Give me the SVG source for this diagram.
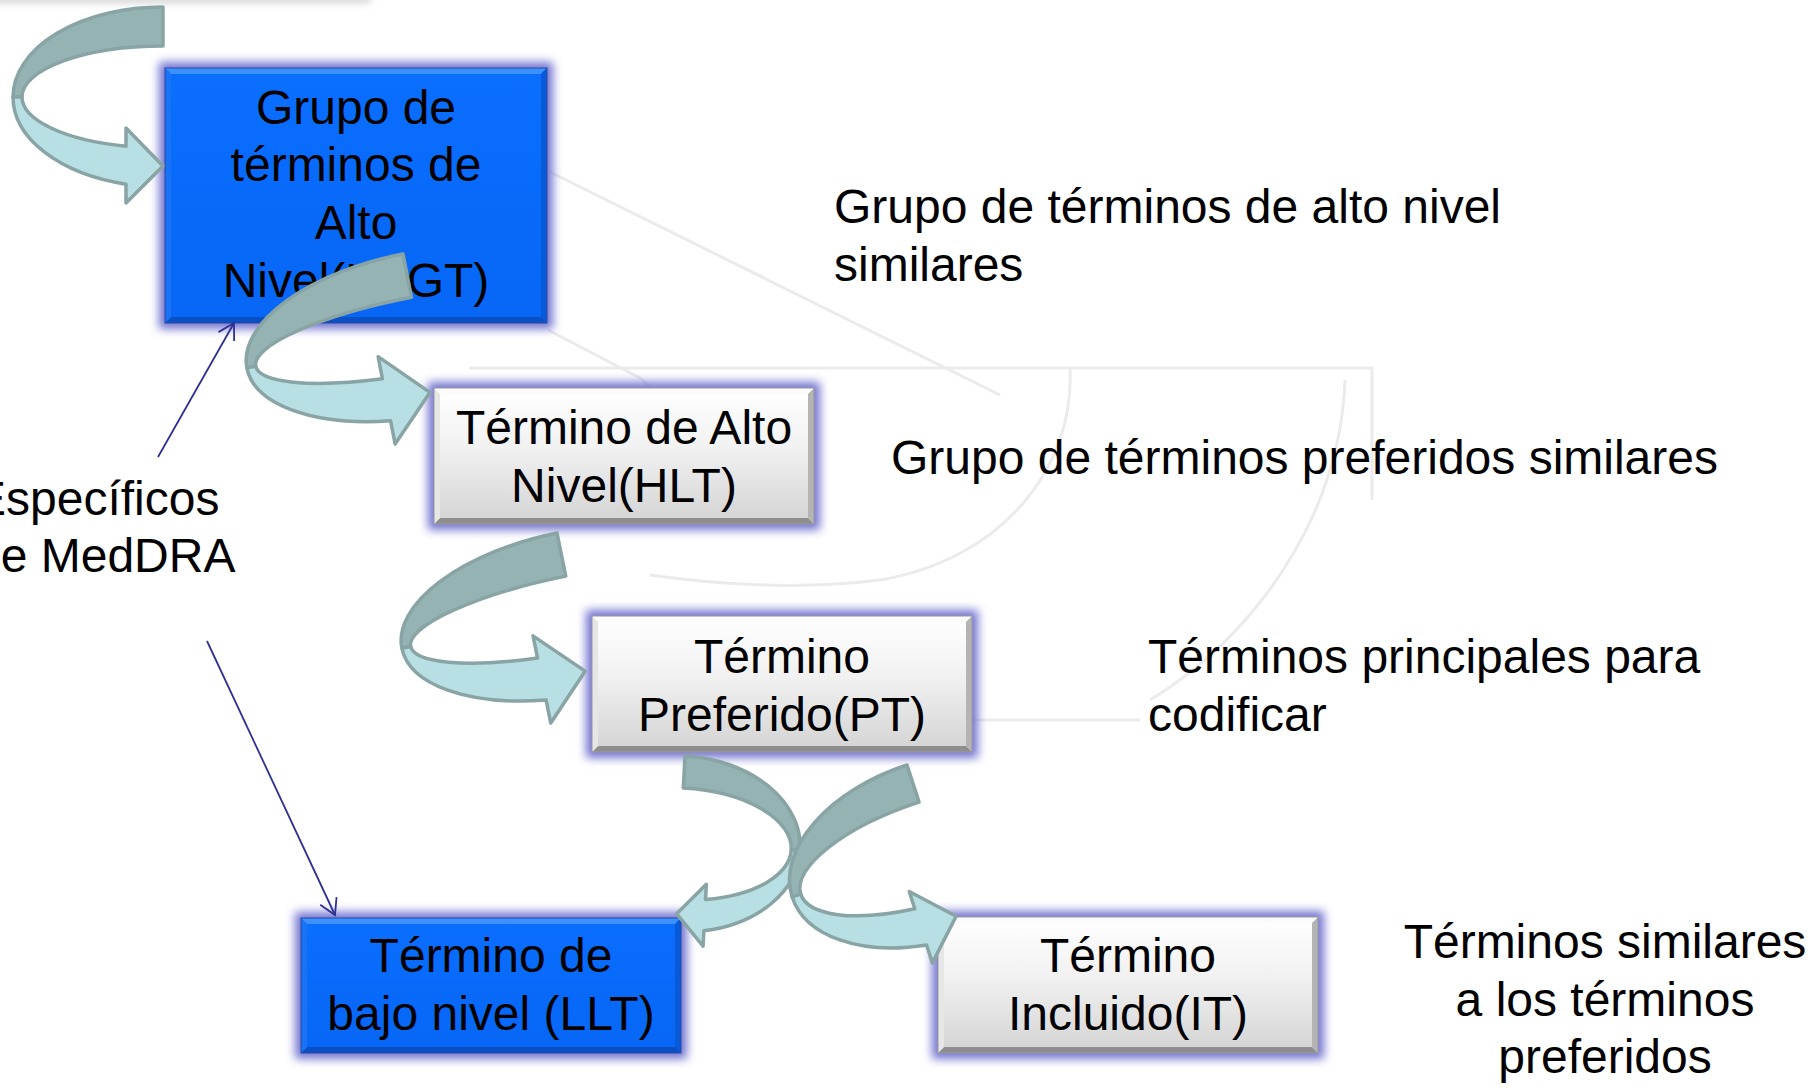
<svg xmlns="http://www.w3.org/2000/svg" xmlns:xlink="http://www.w3.org/1999/xlink" width="1816" height="1088" viewBox="0 0 1816 1088">
<style>
.t{font-family:"Liberation Sans",Arial,sans-serif;font-size:48px;fill:#000}
.m{text-anchor:middle}
.wm{fill:none;stroke:#ebebeb;stroke-width:3}
.dark{fill:#96b3b4;stroke:#89a4a5;stroke-width:3.5;stroke-linejoin:round}
.light{fill:#b8dfe3;stroke:#89a4a5;stroke-width:3.5;stroke-linejoin:round}
.conn{fill:none;stroke:#2e3192;stroke-width:1.8}
.glow{fill:#7474d2;filter:url(#blur)}
</style>
<defs>
<filter id="blur" x="-20%" y="-30%" width="140%" height="160%"><feGaussianBlur stdDeviation="5"/></filter>
<filter id="blur2" x="-20%" y="-200%" width="140%" height="500%"><feGaussianBlur stdDeviation="3"/></filter>
<linearGradient id="gGray" x1="0" y1="0" x2="0" y2="1"><stop offset="0" stop-color="#ffffff"/><stop offset="0.45" stop-color="#f1f1f1"/><stop offset="1" stop-color="#d3d3d3"/></linearGradient>
<linearGradient id="gBlue" x1="0" y1="0" x2="0" y2="1"><stop offset="0" stop-color="#0a6eff"/><stop offset="1" stop-color="#0766f5"/></linearGradient>
<marker id="open" viewBox="0 0 22 20" refX="20" refY="10" markerWidth="22" markerHeight="20" orient="auto" markerUnits="userSpaceOnUse">
<path d="M4.4,1 L20,10 L4.4,19" fill="none" stroke="#2e3192" stroke-width="1.8"/>
</marker>
<g id="boxGray">
<rect class="glow" x="-6" y="-6" width="392" height="148"/>
<rect x="0" y="0" width="380" height="136" fill="url(#gGray)"/>
<polygon points="0,0 380,0 374,6 6,6" fill="#fbfbfb"/>
<polygon points="0,136 380,136 374,130 6,130" fill="#8e8e8e"/>
<polygon points="380,0 380,136 374,130 374,6" fill="#b4b4b4"/>
<polygon points="0,0 0,136 6,130 6,6" fill="#e6e6e6"/>
<rect x="0" y="0" width="380" height="136" fill="none" stroke="#9a9a9a" stroke-width="1"/>
</g>
<g id="boxBlue">
<rect class="glow" x="-6" y="-6" width="392" height="147"/>
<rect x="0" y="0" width="380" height="135" fill="url(#gBlue)"/>
<polygon points="0,0 380,0 374,6 6,6" fill="#3d90ff"/>
<polygon points="0,135 380,135 374,129 6,129" fill="#0a4fc4"/>
<polygon points="380,0 380,135 374,129 374,6" fill="#075ad8"/>
<polygon points="0,0 0,135 6,129 6,6" fill="#1a73f5"/>
<rect x="0" y="0" width="380" height="135" fill="none" stroke="#2a4aa0" stroke-width="1"/>
</g>
<g id="arrowA">
<path class="dark" d="M0,-90 A150 90 0 0 0 -150,0 L-141,0 A141 51 0 0 1 0,-51 Z"/>
<path class="light" d="M-150,0 A150 90 0 0 0 -37,87.2 L-37,106 L0,69 L-37,31 L-37,49.2 A141 51 0 0 1 -141,0 Z"/>
</g>
<g id="arrowB">
<path class="dark" d="M0,-82 A175 82 0 0 0 -175,0 L-166,0 A166 38 0 0 1 0,-38 Z"/>
<path class="light" d="M-175,0 A175 82 0 0 0 -44,79.4 L-44,103 L0,59 L-44,14 L-44,36.6 A166 38 0 0 1 -166,0 Z"/>
</g>
<g id="arrowC">
<path class="dark" d="M0,-88 A120 88 0 0 0 -120,0 L-111,0 A111 56 0 0 1 0,-56 Z"/>
<path class="light" d="M-120,0 A120 88 0 0 0 -28,85.6 L-28,101 L0,70 L-28,39 L-28,54.2 A111 56 0 0 1 -111,0 Z"/>
</g>
</defs>
<rect x="0" y="0" width="1816" height="1088" fill="#ffffff"/>
<g id="watermark">
<rect x="-10" y="-8" width="382" height="12" rx="6" fill="#dcdcdc" filter="url(#blur2)"/>
<path class="wm" d="M550,172 L1000,395"/>
<path class="wm" d="M548,330 L640,378 L720,450"/>
<path class="wm" d="M469,368 H1372 V500"/>
<path class="wm" d="M1070,368 C1075,470 1000,560 880,580 C800,590 720,585 650,575"/>
<path class="wm" d="M1345,380 C1340,520 1250,640 1150,700"/>
<path class="wm" d="M971,720 H1140"/>
</g>
<g id="node-hlgt">
<rect class="glow" x="159" y="62" width="394" height="267"/>
<rect x="165" y="68" width="382" height="255" fill="url(#gBlue)"/>
<polygon points="165,68 547,68 541,74 171,74" fill="#3d90ff"/>
<polygon points="165,323 547,323 541,317 171,317" fill="#0a4fc4"/>
<polygon points="547,68 547,323 541,317 541,74" fill="#075ad8"/>
<polygon points="165,68 165,323 171,317 171,74" fill="#1a73f5"/>
<rect x="165" y="68" width="382" height="255" fill="none" stroke="#2a4aa0" stroke-width="1"/>
<text class="t m" x="356" y="124">Grupo de</text>
<text class="t m" x="356" y="181">términos de</text>
<text class="t m" x="356" y="239">Alto</text>
<text class="t m" x="356" y="297">Nivel(HLGT)</text>
</g>
<g id="node-hlt">
<use xlink:href="#boxGray" transform="translate(434,388)"/>
<text class="t m" x="624" y="444">Término de Alto</text>
<text class="t m" x="624" y="502">Nivel(HLT)</text>
</g>
<g id="node-pt">
<use xlink:href="#boxGray" transform="translate(592,616)"/>
<text class="t m" x="782" y="673">Término</text>
<text class="t m" x="782" y="731">Preferido(PT)</text>
</g>
<g id="node-llt">
<use xlink:href="#boxBlue" transform="translate(301,918)"/>
<text class="t m" x="491" y="972">Término de</text>
<text class="t m" x="491" y="1030">bajo nivel (LLT)</text>
</g>
<g id="node-it">
<use xlink:href="#boxGray" transform="translate(938,917)"/>
<text class="t m" x="1128" y="972">Término</text>
<text class="t m" x="1128" y="1030">Incluido(IT)</text>
</g>
<g id="labels">
<text class="t" x="834" y="223">Grupo de términos de alto nivel</text>
<text class="t" x="834" y="281">similares</text>
<text class="t" x="891" y="474">Grupo de términos preferidos similares</text>
<text class="t" x="1148" y="673">Términos principales para</text>
<text class="t" x="1148" y="731">codificar</text>
<text class="t m" x="1605" y="958">Términos similares</text>
<text class="t m" x="1605" y="1016">a los términos</text>
<text class="t m" x="1605" y="1073">preferidos</text>
<text class="t" x="-26" y="515">Específicos</text>
<text class="t" x="-26" y="572">de MedDRA</text>
</g>
<g id="connectors">
<use xlink:href="#arrowA" transform="translate(163,97)"/>
<use xlink:href="#arrowB" transform="translate(403,254) rotate(-11) translate(0,82)"/>
<use xlink:href="#arrowB" transform="translate(557,533) rotate(-11.5) translate(0,82)"/>
<use xlink:href="#arrowC" transform="translate(685,756) rotate(3) scale(-1,1) translate(0,88)"/>
<use xlink:href="#arrowA" transform="translate(907,765) rotate(-18) translate(0,90)"/>
<line class="conn" x1="158" y1="457" x2="234" y2="323" marker-end="url(#open)"/>
<line class="conn" x1="207" y1="641" x2="335" y2="915" marker-end="url(#open)"/>
</g>
</svg>
